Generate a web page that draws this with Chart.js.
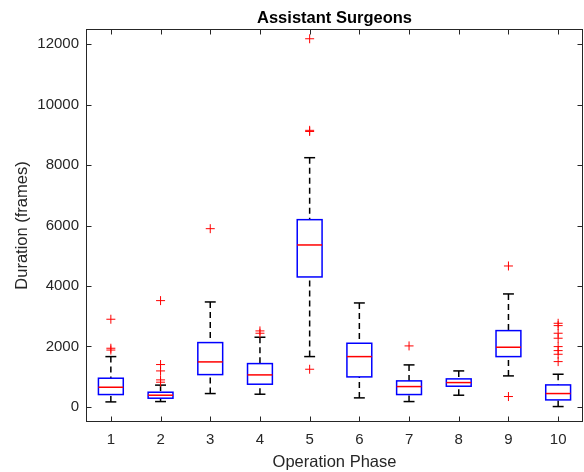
<!DOCTYPE html>
<html>
<head>
<meta charset="utf-8">
<script src="https://cdn.jsdelivr.net/npm/chart.js@4/dist/chart.umd.min.js"></script>
<style>
  body { margin: 0; background: #fff; }
  canvas { display: block; }
</style>
</head>
<body>
<canvas id="chart1" width="584" height="472"></canvas>
<script>
// box plot values
const phases = ['1', '2', '3', '4', '5', '6', '7', '8', '9', '10'];
const whiskerLow  = [165, 176, 441, 419, 1664, 298, 176, 386, 1025, 11];
const q1          = [408, 287, 1068, 750, 4298, 992, 408, 683, 1663, 231];
const medians     = [650, 386, 1488, 1058, 5356, 1663, 672, 804, 1973, 441];
const q3          = [948, 485, 2127, 1432, 6193, 2105, 860, 926, 2523, 727];
const whiskerHigh = [1663, 720, 3471, 2304, 8243, 3438, 1389, 1190, 3736, 1080];
const outliers = [
    [2899, 1940, 1880],
    [3515, 1400, 1190, 893, 816],
    [5895],
    [2513, 2436],
    [12177, 9148, 9110, 1245],
    [],
    [2017],
    [],
    [4661, 342],
    [2766, 2688, 2436, 2271, 1994, 1862, 1741, 1498]
];
const yTickValues = [0, 2000, 4000, 6000, 8000, 10000, 12000];

const boxWidth = 0.5;
const capWidth = 0.22;
const fontFamily = '"Liberation Sans", Arial, Helvetica, sans-serif';
const axisColor = '#262626';

const outlierPoints = [];
outliers.forEach((list, i) => {
    list.forEach(v => outlierPoints.push({x: i + 1, y: v}));
});

const line = (ctx, x1, y1, x2, y2) => {
    ctx.beginPath();
    ctx.moveTo(x1, y1);
    ctx.lineTo(x2, y2);
    ctx.stroke();
};

const boxPlugin = {
    id: 'boxes',
    beforeDatasetsDraw(chart) {
        const {ctx, scales: {x, y}} = chart;
        ctx.save();
        ctx.lineWidth = 1.5;
        phases.forEach((p, i) => {
            const cx = x.getPixelForValue(i + 1);
            const half = x.getPixelForValue(i + 1 + boxWidth / 2) - cx;
            const cap = x.getPixelForValue(i + 1 + capWidth / 2) - cx;
            const yLo = y.getPixelForValue(whiskerLow[i]);
            const yQ1 = y.getPixelForValue(q1[i]);
            const yMed = y.getPixelForValue(medians[i]);
            const yQ3 = y.getPixelForValue(q3[i]);
            const yHi = y.getPixelForValue(whiskerHigh[i]);

            // whiskers
            ctx.strokeStyle = '#000';
            ctx.setLineDash([6, 4]);
            line(ctx, cx, yHi, cx, yQ3);
            line(ctx, cx, yLo, cx, yQ1);
            ctx.setLineDash([]);
            line(ctx, cx - cap, yHi, cx + cap, yHi);
            line(ctx, cx - cap, yLo, cx + cap, yLo);

            // box
            ctx.strokeStyle = '#0000ff';
            ctx.strokeRect(cx - half, yQ3, half * 2, yQ1 - yQ3);

            // median
            ctx.strokeStyle = '#ff0000';
            line(ctx, cx - half, yMed, cx + half, yMed);
        });
        ctx.restore();
    },
    afterDraw(chart) {
        const {ctx, chartArea: a, scales: {x, y}} = chart;
        const l = Math.round(a.left) + 0.5, r = Math.round(a.right) - 0.5;
        const t = Math.round(a.top) + 0.5, b = Math.round(a.bottom) - 0.5;
        const tick = 5;
        ctx.save();
        ctx.strokeStyle = axisColor;
        ctx.lineWidth = 1;
        ctx.strokeRect(l, t, r - l, b - t);
        // inward ticks, matlab style
        y.ticks.forEach(tk => {
            const py = Math.round(y.getPixelForValue(tk.value)) + 0.5;
            line(ctx, l, py, l + tick, py);
            line(ctx, r, py, r - tick, py);
        });
        x.ticks.forEach(tk => {
            const px = Math.round(x.getPixelForValue(tk.value)) + 0.5;
            line(ctx, px, b, px, b - tick);
            line(ctx, px, t, px, t + tick);
        });
        ctx.restore();
    }
};

const ctx = document.querySelector('#chart1');

new Chart(ctx, {
    type: 'scatter',
    data: {
        datasets: [{
            label: 'Outliers',
            data: outlierPoints,
            pointStyle: 'cross',
            pointRadius: 4.5,
            pointHoverRadius: 4.5,
            borderColor: '#ff0000',
            backgroundColor: '#ff0000',
            borderWidth: 1
        }]
    },
    options: {
        responsive: false,
        animation: false,
        layout: {
            autoPadding: false,
            padding: {left: 0, right: 1, top: 0, bottom: 0}
        },
        plugins: {
            legend: { display: false },
            tooltip: { enabled: false },
            title: {
                display: true,
                fullSize: false,
                text: 'Assistant Surgeons',
                color: '#000',
                font: { family: fontFamily, size: 16.5, weight: 'bold' },
                padding: { top: 9, bottom: 0.2 }
            }
        },
        scales: {
            x: {
                type: 'linear',
                min: 0.5,
                max: 10.5,
                grid: { display: false, drawTicks: false },
                border: { display: false },
                afterBuildTicks: (scale) => {
                    scale.ticks = phases.map((p, i) => ({value: i + 1}));
                },
                afterFit: (scale) => {
                    scale.height = 50;
                    scale.paddingLeft = 0;
                    scale.paddingRight = 0;
                },
                ticks: {
                    color: axisColor,
                    padding: 9,
                    font: { family: fontFamily, size: 15 },
                    callback: (value) => phases[value - 1]
                },
                title: {
                    display: true,
                    text: 'Operation Phase',
                    color: axisColor,
                    font: { family: fontFamily, size: 16.5 },
                    padding: { top: 0, bottom: 0 }
                }
            },
            y: {
                min: -500,
                max: 12500,
                grid: { display: false, drawTicks: false },
                border: { display: false },
                afterBuildTicks: (scale) => {
                    scale.ticks = yTickValues.map(v => ({value: v}));
                },
                afterFit: (scale) => {
                    scale.width = 86;
                    scale.paddingTop = 0;
                    scale.paddingBottom = 0;
                },
                ticks: {
                    color: axisColor,
                    padding: 7,
                    font: { family: fontFamily, size: 15 },
                    callback: (value) => String(value)
                },
                title: {
                    display: true,
                    text: 'Duration (frames)',
                    color: axisColor,
                    font: { family: fontFamily, size: 16.5 },
                    padding: { top: 13, bottom: 0 }
                }
            }
        }
    },
    plugins: [boxPlugin]
});
</script>
</body>
</html>
